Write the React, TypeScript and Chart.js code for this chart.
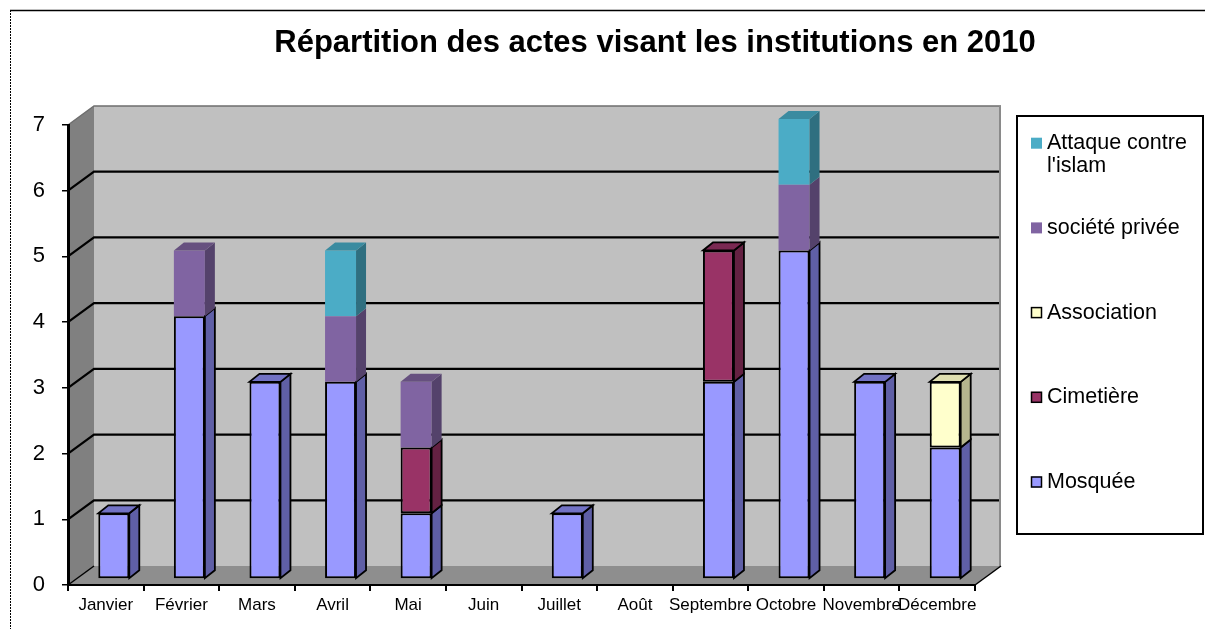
import React, { useEffect, useRef } from "react";
import { Chart, registerables } from "chart.js";

Chart.register(...registerables);

// ---------- data ----------
const title = "Répartition des actes visant les institutions en 2010";
const categories = [
  "Janvier", "Février", "Mars", "Avril", "Mai", "Juin",
  "Juillet", "Août", "Septembre", "Octobre", "Novembre", "Décembre",
];
const mosquee = [1, 4, 3, 3, 1, 0, 1, 0, 3, 5, 3, 2];
const cimetiere = [0, 0, 0, 0, 1, 0, 0, 0, 2, 0, 0, 0];
const association = [0, 0, 0, 0, 0, 0, 0, 0, 0, 0, 0, 1];
const societePrivee = [0, 1, 0, 1, 1, 0, 0, 0, 0, 1, 0, 0];
const attaqueIslam = [0, 0, 0, 1, 0, 0, 0, 0, 0, 1, 0, 0];
const yTicks = [0, 1, 2, 3, 4, 5, 6, 7];

// ---------- styles ----------
const FONT = 'Arial, "Liberation Sans", sans-serif';
const series = [
  { label: "Mosquée", data: mosquee, front: "#9999FF", side: "#5F5FA6", top: "#7272C4", border: true },
  { label: "Cimetière", data: cimetiere, front: "#993366", side: "#642142", top: "#7A2952", border: true },
  { label: "Association", data: association, front: "#FFFFCC", side: "#B5B58E", top: "#DEDEB0", border: true },
  { label: "société privée", data: societePrivee, front: "#8064A2", side: "#54426B", top: "#66507F", border: false },
  { label: "Attaque contre l'islam", data: attaqueIslam, front: "#4BACC6", side: "#2F6F80", top: "#3A8BA0", border: false },
];

const DEPTH_X = 26;
const DEPTH_Y = -19;
const BAR_SHIFT_X = 8;
const BAR_SHIFT_Y = -6;
const BAR_DX = 10;
const BAR_DY = -8;

function poly(ctx: CanvasRenderingContext2D, pts: number[][], fill?: string, stroke?: string, lw = 1) {
  ctx.beginPath();
  ctx.moveTo(pts[0][0], pts[0][1]);
  for (let i = 1; i < pts.length; i++) ctx.lineTo(pts[i][0], pts[i][1]);
  ctx.closePath();
  if (fill) {
    ctx.fillStyle = fill;
    ctx.fill();
  }
  if (stroke) {
    ctx.strokeStyle = stroke;
    ctx.lineWidth = lw;
    ctx.lineJoin = "miter";
    ctx.stroke();
  }
}

function line(ctx: CanvasRenderingContext2D, pts: number[][], color: string, lw: number) {
  ctx.beginPath();
  ctx.moveTo(pts[0][0], pts[0][1]);
  for (let i = 1; i < pts.length; i++) ctx.lineTo(pts[i][0], pts[i][1]);
  ctx.strokeStyle = color;
  ctx.lineWidth = lw;
  ctx.stroke();
}

const wallsPlugin = {
  id: "walls3d",
  beforeDraw(chart: any) {
    const ctx: CanvasRenderingContext2D = chart.ctx;
    const { left, right, top, bottom } = chart.chartArea;
    const ys = chart.scales.y;
    const dx = DEPTH_X;
    const dy = DEPTH_Y;
    ctx.save();
    // outer frame
    line(ctx, [[10, 10.5], [chart.width, 10.5]], "#000", 1.5);
    ctx.setLineDash([2, 1]);
    line(ctx, [[10.5, 10], [10.5, chart.height]], "#000", 1);
    ctx.setLineDash([]);

    // back wall
    ctx.fillStyle = "#C0C0C0";
    ctx.fillRect(left + dx, top + dy, right - left, bottom - top);
    // left wall
    poly(ctx, [[left, top], [left + dx, top + dy], [left + dx, bottom + dy], [left, bottom]], "#808080");
    // floor
    poly(ctx, [[left, bottom], [right, bottom], [right + dx, bottom + dy], [left + dx, bottom + dy]], "#8E8E8E");

    // gridlines on walls
    ys.ticks.forEach((t: any) => {
      const v = t.value;
      const py = ys.getPixelForValue(v);
      if (v === ys.max) {
        line(ctx, [[left, py], [left + dx, py + dy], [right + dx, py + dy]], "#6E6E6E", 1.5);
      } else if (v === ys.min) {
        line(ctx, [[left, py], [left + dx, py + dy]], "#000", 1.5);
      } else {
        line(ctx, [[left, py], [left + dx, py + dy], [right + dx, py + dy]], "#000", 2.2);
      }
    });
    // back wall right edge & floor right edge
    line(ctx, [[right + dx - 1, top + dy], [right + dx - 1, bottom + dy]], "#8A8A8A", 2);
    line(ctx, [[right, bottom], [right + dx, bottom + dy]], "#000", 1.5);
    ctx.restore();
  },
};

const barsPlugin = {
  id: "bars3d",
  beforeDatasetsDraw(chart: any) {
    chart.ctx.save();
    chart.ctx.translate(BAR_SHIFT_X, BAR_SHIFT_Y);
  },
  afterDatasetsDraw(chart: any) {
    const ctx: CanvasRenderingContext2D = chart.ctx;
    for (let i = 0; i < categories.length; i++) {
      let topIdx = -1;
      series.forEach((s, d) => {
        if (s.data[i]) topIdx = d;
      });
      series.forEach((s, d) => {
        if (!s.data[i]) return;
        const el = chart.getDatasetMeta(d).data[i];
        if (!el) return;
        const { x, y, base, width } = el.getProps(["x", "y", "base", "width"], true);
        const l = x - width / 2;
        const r = x + width / 2;
        const t = Math.min(y, base);
        const b = Math.max(y, base);
        const stroke = s.border ? "#000" : undefined;
        poly(ctx, [[r, b], [r, t], [r + BAR_DX, t + BAR_DY], [r + BAR_DX, b + BAR_DY]], s.side, stroke, 1.8);
        if (d === topIdx) {
          poly(ctx, [[l, t], [r, t], [r + BAR_DX, t + BAR_DY], [l + BAR_DX, t + BAR_DY]], s.top, stroke, 1.8);
        }
      });
    }
    ctx.restore();
  },
};

function wrap(ctx: CanvasRenderingContext2D, text: string, maxW: number): string[] {
  const words = text.split(" ");
  const lines: string[] = [];
  let cur = "";
  for (const w of words) {
    const test = cur ? cur + " " + w : w;
    if (ctx.measureText(test).width > maxW && cur) {
      lines.push(cur);
      cur = w;
    } else cur = test;
  }
  if (cur) lines.push(cur);
  return lines;
}

const overlayPlugin = {
  id: "overlay",
  afterDraw(chart: any) {
    const ctx: CanvasRenderingContext2D = chart.ctx;
    ctx.save();
    // title
    ctx.fillStyle = "#000";
    ctx.font = `bold 31px ${FONT}`;
    ctx.textAlign = "center";
    ctx.textBaseline = "middle";
    ctx.fillText(title, 655, 43);

    // legend box
    const bx = 1017, by = 116, bw = 186, bh = 418;
    ctx.fillStyle = "#fff";
    ctx.fillRect(bx, by, bw, bh);
    ctx.strokeStyle = "#000";
    ctx.lineWidth = 2;
    ctx.strokeRect(bx, by, bw, bh);

    ctx.font = `21.5px ${FONT}`;
    ctx.textAlign = "left";
    ctx.textBaseline = "middle";
    const step = 84.7;
    const firstY = 482;
    series.forEach((s, d) => {
      const ly = firstY - d * step;
      ctx.fillStyle = s.front;
      ctx.fillRect(1031, ly - 5.5, 11, 11);
      if (s.border) {
        ctx.strokeStyle = "#000";
        ctx.lineWidth = 1.5;
        ctx.strokeRect(1031.5, ly - 5, 10, 10);
      }
      ctx.fillStyle = "#000";
      const lines = wrap(ctx, s.label, 150);
      lines.forEach((ln, k) => ctx.fillText(ln, 1047, ly + k * 23));
    });
    ctx.restore();
  },
};

export default function App() {
  const ref = useRef<HTMLCanvasElement | null>(null);
  useEffect(() => {
    if (!ref.current) return;
    const chart = new Chart(ref.current, {
      type: "bar",
      data: {
        labels: categories,
        datasets: series.map((s) => ({
          label: s.label,
          data: s.data.map((v) => (v ? v : null)),
          backgroundColor: s.front,
          borderColor: "#000",
          borderWidth: s.border ? 2 : 0,
          borderSkipped: false,
          categoryPercentage: 1,
          barPercentage: 0.41,
          clip: false,
        })),
      },
      options: {
        animation: false,
        responsive: false,
        devicePixelRatio: 1,
        events: [],
        layout: { padding: { left: 0, right: 230, top: 125, bottom: 0 } },
        plugins: {
          legend: { display: false },
          title: { display: false },
          tooltip: { enabled: false },
        },
        scales: {
          x: {
            stacked: true,
            offset: true,
            grid: {
              offset: true,
              drawOnChartArea: false,
              drawTicks: true,
              tickLength: 6,
              color: "#000",
              lineWidth: 2,
            },
            border: { display: true, color: "#000", width: 2 },
            ticks: {
              font: { family: FONT, size: 17 },
              color: "#000",
              maxRotation: 0,
              minRotation: 0,
              autoSkip: false,
              padding: 4,
            },
            afterFit: (s: any) => {
              s.height = 44;
            },
          },
          y: {
            stacked: true,
            min: 0,
            max: 7,
            afterBuildTicks: (s: any) => {
              s.ticks = yTicks.map((v) => ({ value: v }));
            },
            grid: {
              drawOnChartArea: false,
              drawTicks: true,
              tickLength: 6,
              color: "#000",
              lineWidth: 1.5,
            },
            border: { display: true, color: "#000", width: 3 },
            ticks: {
              font: { family: FONT, size: 22 },
              color: "#000",
              padding: 17,
            },
            afterFit: (s: any) => {
              s.width = 68;
            },
          },
        },
      },
      plugins: [wallsPlugin, barsPlugin, overlayPlugin],
    } as any);
    return () => chart.destroy();
  }, []);
  return (
    <div style={{ position: "fixed", left: 0, top: 0, width: 1205, height: 629, background: "#fff" }}>
      <canvas ref={ref} width={1205} height={629} style={{ display: "block", width: 1205, height: 629 }} />
    </div>
  );
}
